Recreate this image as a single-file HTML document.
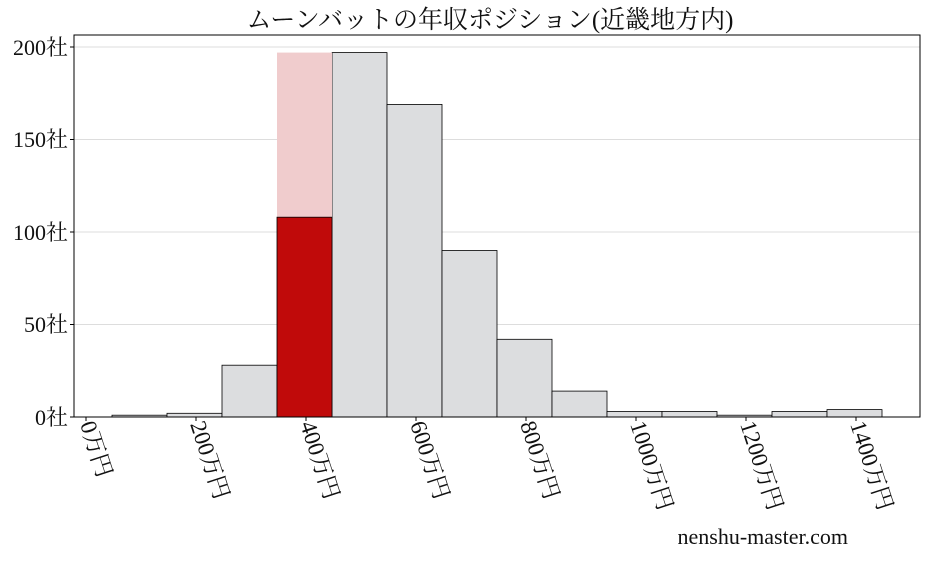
<!DOCTYPE html>
<html><head><meta charset="utf-8"><style>
body{margin:0;background:#fff;}
svg text{font-family:"Liberation Serif","Noto Serif CJK JP",serif;fill:#111;}
</style></head><body>
<svg width="927" height="557" xmlns="http://www.w3.org/2000/svg">
<rect width="927" height="557" fill="#fff"/>
<text x="490" y="28" font-size="25" text-anchor="middle">ムーンバットの年収ポジション(近畿地方内)</text>
<g stroke="#ddd" stroke-width="1">
<line x1="74" x2="920" y1="324.5" y2="324.5"/>
<line x1="74" x2="920" y1="232" y2="232"/>
<line x1="74" x2="920" y1="139.5" y2="139.5"/>
<line x1="74" x2="920" y1="47" y2="47"/>
</g>
<g transform="translate(-1.5,0)">
<g stroke="#000" stroke-width="0.8" fill="#dcdddf">
<rect x="113.5" y="415.2" width="55" height="1.8"/>
<rect x="168.5" y="413.3" width="55" height="3.7"/>
<rect x="223.5" y="365.2" width="55" height="51.8"/>
<rect x="333.5" y="52.6" width="55" height="364.4"/>
<rect x="388.5" y="104.4" width="55" height="312.6"/>
<rect x="443.5" y="250.5" width="55" height="166.5"/>
<rect x="498.5" y="339.3" width="55" height="77.7"/>
<rect x="553.5" y="391.1" width="55" height="25.9"/>
<rect x="608.5" y="411.5" width="55" height="5.5"/>
<rect x="663.5" y="411.5" width="55" height="5.5"/>
<rect x="718.5" y="415.2" width="55" height="1.8"/>
<rect x="773.5" y="411.5" width="55" height="5.5"/>
<rect x="828.5" y="409.6" width="55" height="7.4"/>
</g>
<rect x="278.5" y="52.6" width="55" height="364.4" fill="#f0cccd"/>
<rect x="278.5" y="217.2" width="55" height="199.8" fill="#c00a0a" stroke="#000" stroke-width="0.8"/>
</g>
<rect x="74" y="35" width="846" height="382" fill="none" stroke="#000" stroke-width="1"/>
<g font-size="22" text-anchor="end">
<text x="68" y="425">0社</text>
<text x="68" y="332">50社</text>
<text x="68" y="240">100社</text>
<text x="68" y="147">150社</text>
<text x="68" y="55">200社</text>
</g>
<g stroke="#000"><line x1="70" x2="74" y1="417" y2="417"/><line x1="70" x2="74" y1="324.5" y2="324.5"/><line x1="70" x2="74" y1="232" y2="232"/><line x1="70" x2="74" y1="139.5" y2="139.5"/><line x1="70" x2="74" y1="47" y2="47"/>
<line x1="86" x2="86" y1="417" y2="421"/><line x1="196" x2="196" y1="417" y2="421"/><line x1="306" x2="306" y1="417" y2="421"/><line x1="416" x2="416" y1="417" y2="421"/><line x1="526" x2="526" y1="417" y2="421"/><line x1="636" x2="636" y1="417" y2="421"/><line x1="746" x2="746" y1="417" y2="421"/><line x1="856" x2="856" y1="417" y2="421"/></g>
<g font-size="23">
<text transform="translate(80,424) rotate(72)">0万円</text>
<text transform="translate(190,424) rotate(72)">200万円</text>
<text transform="translate(300,424) rotate(72)">400万円</text>
<text transform="translate(410,424) rotate(72)">600万円</text>
<text transform="translate(520,424) rotate(72)">800万円</text>
<text transform="translate(630,424) rotate(72)">1000万円</text>
<text transform="translate(740,424) rotate(72)">1200万円</text>
<text transform="translate(850,424) rotate(72)">1400万円</text>
</g>
<text x="848" y="544" font-size="22" text-anchor="end">nenshu-master.com</text>
</svg>
</body></html>
